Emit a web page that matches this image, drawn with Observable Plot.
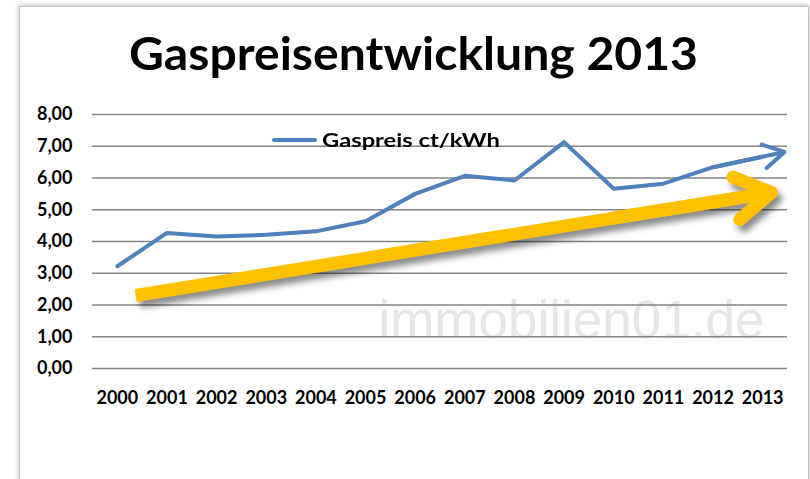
<!DOCTYPE html>
<html><head><meta charset="utf-8">
<script src="https://cdn.jsdelivr.net/npm/d3@7"></script>
<script src="https://cdn.jsdelivr.net/npm/@observablehq/plot@0.6"></script>
<style>
body{margin:0;background:#fff;}
#wrap{position:relative;width:810px;height:479px;overflow:hidden;background:#fff;}
#frame{position:absolute;left:19px;top:6px;width:788px;height:520px;border:1px solid #c2c2c2;box-shadow:0 -1px 5px rgba(0,0,0,0.25);pointer-events:none;z-index:3;}
#title{position:absolute;left:129px;top:31px;font-family:Lato;font-weight:700;font-size:45px;line-height:45px;white-space:nowrap;transform-origin:0 0;z-index:2;color:#000;}
#chart{position:absolute;left:0;top:95px;z-index:1;}
#legend{position:absolute;left:272px;top:130px;z-index:2;white-space:nowrap;}
#legend .sw{position:absolute;left:0;top:8px;width:45px;height:4px;background:#4F81BD;border-radius:2px;}
#legend .tx{position:absolute;left:50px;top:0;font-family:Lato;font-weight:700;font-size:19px;line-height:19px;transform-origin:0 0;color:#000;}
</style></head>
<body>
<div id="wrap">
  <div id="chart"></div>
  <div id="title"></div>
  <div id="legend"><div class="sw"></div><div class="tx"></div></div>
  <div id="frame"></div>
</div>
<script>
const titleText = "Gaspreisentwicklung 2013";
const seriesName = "Gaspreis ct/kWh";
const watermark = "immobilien01.de";
const years = [2000,2001,2002,2003,2004,2005,2006,2007,2008,2009,2010,2011,2012,2013];
const prices = [3.22,4.27,4.16,4.21,4.32,4.64,5.50,6.07,5.92,7.13,5.66,5.82,6.34,6.67];
const yTicks = [0,1,2,3,4,5,6,7,8];
// annotation arrows (data units)
const trendShaft = [{x1:2000.37, y1:2.30, x2:2013.18, y2:5.54}];
const trendHead = [{x1:2010, y1:4.74, x2:2013.18, y2:5.54}];
const lineTip = [{x1:2012, y1:6.34, x2:2013.44, y2:6.82}];

const blue = "#4F81BD", gold = "#FFC000";

const plot = Plot.plot({
  width: 810, height: 384,
  marginTop: 19, marginBottom: 111, marginLeft: 92, marginRight: 23,
  x: {type: "linear", domain: [1999.5, 2013.5]},
  y: {domain: [0, 8]},
  style: "font-family: Lato; font-size: 18px; font-weight: 700; background: transparent; overflow: visible; color: #000;",
  marks: [
    Plot.text([watermark], {x: 2005.26, y: 1.5, text: d => d, textAnchor: "start", lineAnchor: "middle",
      fontFamily: "Liberation Sans", fontSize: 53, fontWeight: 400, fill: "#e6e6e6"}),
    Plot.gridY(yTicks, {stroke: "#858585", strokeOpacity: 1, strokeWidth: 1.3}),
    Plot.axisY(yTicks, {tickSize: 0, tickPadding: 20, tickFormat: d => d.toFixed(2).replace(".", ","), label: null}),
    Plot.axisX(years, {tickSize: 0, tickPadding: 23, tickFormat: d => String(d), label: null}),
    Plot.line(prices, {x: years, y: prices, stroke: blue, strokeWidth: 4, strokeLinejoin: "round", strokeLinecap: "round"}),
    Plot.arrow(lineTip, {x1: "x1", y1: "y1", x2: "x2", y2: "y2", stroke: blue, strokeWidth: 4, headLength: 9, headAngle: 60, strokeLinecap: "round", strokeLinejoin: "miter"}),
    Plot.link(trendShaft, {x1: "x1", y1: "y1", x2: "x2", y2: "y2", stroke: gold, strokeWidth: 13, strokeLinecap: "butt"}),
    Plot.arrow(trendHead, {x1: "x1", y1: "y1", x2: "x2", y2: "y2", stroke: gold, strokeWidth: 13, headLength: 4.8, headAngle: 62, strokeLinecap: "round", strokeLinejoin: "miter"})
  ]
});
document.getElementById("chart").appendChild(plot);

// group gold trend arrow and give it a drop shadow
const svg = d3.select(plot);
const golds = svg.selectAll('g[stroke="' + gold + '"]').nodes();
const wrapG = svg.append("g").attr("style", "filter: drop-shadow(4px 6px 3px rgba(0,0,0,0.45))");
golds.forEach(n => wrapG.node().appendChild(n));

// title & legend text, fitted to reference widths
const t = document.getElementById("title");
t.textContent = titleText;
const tw = t.getBoundingClientRect().width;
t.style.transform = `scaleX(${569 / tw})`;
const lt = document.querySelector("#legend .tx");
lt.textContent = seriesName;
const lw = lt.getBoundingClientRect().width;
lt.style.transform = `scaleX(${178 / lw})`;
</script>
</body></html>
